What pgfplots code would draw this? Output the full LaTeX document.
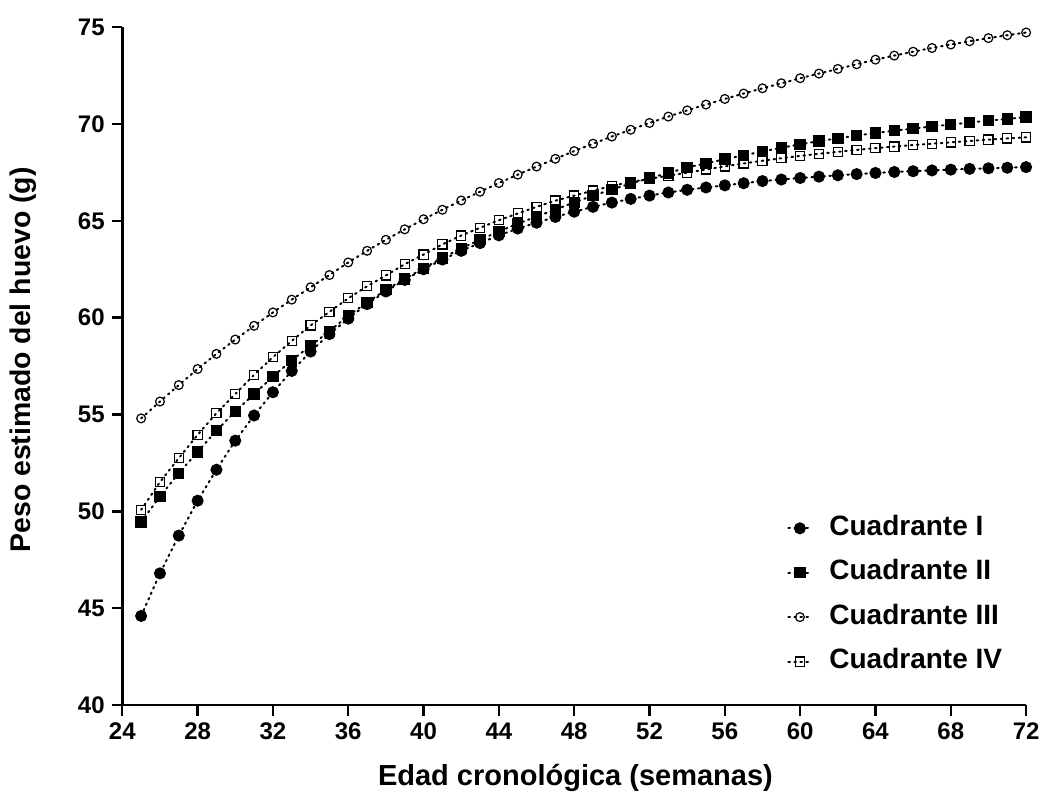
\documentclass[border=0pt]{standalone}
\usepackage{fontspec}
\setmainfont{Liberation Sans}
\usepackage{pgfplots}
\pgfplotsset{compat=1.18}

% dotted connector used by every series
\tikzset{conn/.style={black, line width=1pt, dash pattern=on 0.8pt off 2.2pt, line cap=round}}

\begin{document}
\begin{tikzpicture}
\begin{axis}[name=ax,
  scale only axis, width=451.9pt, height=339pt,
  xmin=24, xmax=72, ymin=40, ymax=75,
  xtick={24,28,...,72}, ytick={40,45,...,75},
  axis lines*=left,
  axis line style={line width=1.3pt},
  tick style={line width=1.2pt, black},
  tick align=outside, major tick length=5.3pt,
  ticklabel style={font=\fontsize{12}{14}\selectfont\bfseries},
  /pgf/number format/assume math mode=true,
  xlabel={Edad cronológica (semanas)},
  ylabel={Peso estimado del huevo (g)},
  xlabel style={at={(axis description cs:0.5014,-0.118)}, anchor=base, font=\fontsize{14.5}{16}\selectfont\bfseries},
  ylabel style={at={(axis description cs:-0.1099,0.509)}, anchor=center, font=\fontsize{14.2}{16}\selectfont\bfseries},
  legend cell align=left,
  legend style={draw=none, fill=none, at={(0.7288,0.2864)}, anchor=north west,
    font=\fontsize{14}{16}\selectfont\bfseries, row sep=9.2pt,
    nodes={inner sep=0pt, text height=10pt, text depth=3pt},
    /tikz/every odd column/.append style={column sep=8.5pt}},
  legend image code/.code={\draw[#1, mark repeat=2, mark phase=2] plot coordinates {(0pt,0pt) (5.75pt,0pt) (11.5pt,0pt)};},
  clip=false]

\addlegendimage{conn, mark=*, mark size=2.5pt, mark options={solid, fill=black}}
\addlegendentry{Cuadrante I}
\addlegendimage{conn, mark=square*, mark size=2.35pt, mark options={solid, fill=black}}
\addlegendentry{Cuadrante II}
\addlegendimage{conn, mark=o, mark size=2.2pt, mark options={solid, line width=0.6pt, fill=white}}
\addlegendentry{Cuadrante III}
\addlegendimage{conn, mark=square, mark size=2.3pt, mark options={solid, line width=0.6pt, fill=white}}
\addlegendentry{Cuadrante IV}

% Cuadrante III
\addplot[conn, mark=o, mark size=2.2pt, mark options={solid, line width=0.6pt, fill=white}, forget plot] coordinates {
  (25,54.8) (26,55.67) (27,56.52) (28,57.35) (29,58.13) (30,58.87) (31,59.58) (32,60.27)
  (33,60.93) (34,61.57) (35,62.2) (36,62.85) (37,63.45) (38,64.02) (39,64.56) (40,65.08)
  (41,65.57) (42,66.05) (43,66.5) (44,66.95) (45,67.38) (46,67.8) (47,68.2) (48,68.6)
  (49,68.98) (50,69.35) (51,69.7) (52,70.05) (53,70.38) (54,70.7) (55,71.0) (56,71.29)
  (57,71.57) (58,71.84) (59,72.1) (60,72.36) (61,72.6) (62,72.84) (63,73.08) (64,73.32)
  (65,73.53) (66,73.73) (67,73.92) (68,74.1) (69,74.27) (70,74.43) (71,74.58) (72,74.72)
};
% Cuadrante IV
\addplot[conn, mark=square, mark size=2.3pt, mark options={solid, line width=0.6pt, fill=white}, forget plot] coordinates {
  (25,50.08) (26,51.51) (27,52.75) (28,53.95) (29,55.07) (30,56.06) (31,57.05) (32,57.96)
  (33,58.8) (34,59.6) (35,60.3) (36,61.0) (37,61.62) (38,62.18) (39,62.76) (40,63.26)
  (41,63.78) (42,64.24) (43,64.64) (44,65.03) (45,65.38) (46,65.72) (47,66.04) (48,66.3)
  (49,66.56) (50,66.8) (51,67.0) (52,67.17) (53,67.33) (54,67.48) (55,67.65) (56,67.81)
  (57,67.96) (58,68.1) (59,68.23) (60,68.35) (61,68.46) (62,68.56) (63,68.66) (64,68.75)
  (65,68.83) (66,68.91) (67,68.98) (68,69.05) (69,69.12) (70,69.19) (71,69.25) (72,69.31)
};
% Cuadrante I
\addplot[conn, mark=*, mark size=2.5pt, mark options={solid, fill=black}, forget plot] coordinates {
  (25,44.6) (26,46.8) (27,48.75) (28,50.55) (29,52.15) (30,53.65) (31,54.95) (32,56.15)
  (33,57.25) (34,58.25) (35,59.15) (36,59.95) (37,60.7) (38,61.35) (39,61.95) (40,62.5)
  (41,63.0) (42,63.45) (43,63.85) (44,64.25) (45,64.6) (46,64.9) (47,65.2) (48,65.47)
  (49,65.72) (50,65.94) (51,66.13) (52,66.3) (53,66.46) (54,66.6) (55,66.72) (56,66.83)
  (57,66.94) (58,67.05) (59,67.13) (60,67.21) (61,67.28) (62,67.35) (63,67.41) (64,67.47)
  (65,67.52) (66,67.56) (67,67.6) (68,67.64) (69,67.68) (70,67.71) (71,67.74) (72,67.77)
};
% Cuadrante II
\addplot[conn, mark=square*, mark size=2.35pt, mark options={solid, fill=black}, forget plot] coordinates {
  (25,49.45) (26,50.77) (27,51.97) (28,53.07) (29,54.17) (30,55.16) (31,56.06) (32,56.96)
  (33,57.8) (34,58.55) (35,59.3) (36,60.1) (37,60.78) (38,61.44) (39,62.0) (40,62.55)
  (41,63.08) (42,63.58) (43,64.02) (44,64.45) (45,64.85) (46,65.22) (47,65.58) (48,65.95)
  (49,66.3) (50,66.62) (51,66.92) (52,67.2) (53,67.47) (54,67.75) (55,67.97) (56,68.18)
  (57,68.38) (58,68.58) (59,68.77) (60,68.95) (61,69.11) (62,69.26) (63,69.4) (64,69.53)
  (65,69.65) (66,69.76) (67,69.87) (68,69.97) (69,70.07) (70,70.17) (71,70.26) (72,70.35)
};
\end{axis}
\pgfresetboundingbox
\path ([shift={(-61.15pt,-47.4pt)}]ax.south west) rectangle ([shift={(8.45pt,13.55pt)}]ax.north east);
\end{tikzpicture}
\end{document}
